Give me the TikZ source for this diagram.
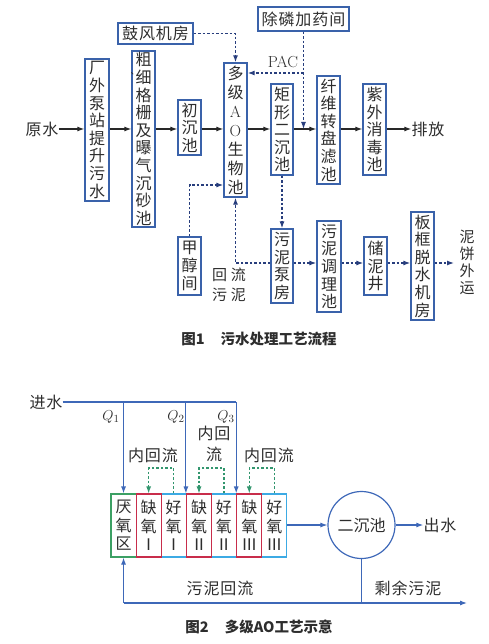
\documentclass[tikz,border=0pt]{standalone}
\usepackage{fontspec}
\newfontfamily\cjk{Noto Sans CJK SC}
\newfontfamily\cjkls[LetterSpace=6]{Noto Sans CJK SC}
\usetikzlibrary{arrows.meta}
\definecolor{txt}{RGB}{45,45,45}
\definecolor{bx}{RGB}{58,98,170}
\definecolor{ar}{RGB}{40,40,40}
\definecolor{dk}{RGB}{40,62,125}
\definecolor{bl}{RGB}{62,104,184}
\definecolor{gz}{RGB}{60,160,100}
\definecolor{rz}{RGB}{200,45,75}
\definecolor{cz}{RGB}{60,170,228}
\definecolor{gd}{RGB}{50,150,110}
\begin{document}
\begin{tikzpicture}[x=1pt,y=-1pt,
  every node/.style={text=txt},
  box/.style={draw=bx, line width=1.3pt, inner sep=0pt, align=center,
    font=\cjk\fontsize{16}{17.6}\selectfont},
  hbox/.style={draw=bx, line width=1.3pt, inner sep=0pt, align=center,
    font=\cjkls\fontsize{16}{18}\selectfont},
  lbl/.style={inner sep=0pt, align=center, font=\cjkls\fontsize{16}{18}\selectfont},
  vlbl/.style={inner sep=0pt, align=center, font=\cjk\fontsize{15}{17}\selectfont},
  captxt/.style={inner sep=0pt, font=\cjk\bfseries\fontsize{14.5}{16}\selectfont},
  tip/.style={-{Latex[length=7pt,width=5pt]}},
  arr/.style={draw=ar, line width=1.1pt, tip},
  darr/.style={draw=dk, line width=1.2pt, dash pattern=on 2.5pt off 2pt, tip},
  zone/.style={line width=1.1pt, inner sep=0pt, align=center,
    minimum width=25.1pt, minimum height=63pt,
    font=\cjk\fontsize{16}{18.5}\selectfont},
  barr/.style={draw=bl, line width=1.1pt, tip},
  bln/.style={draw=bl, line width=1.1pt},
  garr/.style={draw=gd, line width=1.1pt, dash pattern=on 2.5pt off 2pt, tip},
  qlbl/.style={inner sep=0pt, font=\fontsize{15}{15}\selectfont}
]
\useasboundingbox (0,0) rectangle (488,644);
% ---------------- Figure 1 ----------------
\coordinate (m) at (0,129);
\node[lbl] (yuan) at (42,129) {原水};
\node[box, minimum width=24pt, minimum height=142pt] (p1) at (97,130)
  {厂\\外\\泵\\站\\提\\升\\污\\水};
\node[box, minimum width=23pt, minimum height=176pt] (p2) at (143.5,139)
  {粗\\\makebox[0pt][l]{\hspace{-5pt}\raisebox{9pt}{\scalebox{0.55}{、}}}细\\格\\栅\\及\\曝\\气\\沉\\砂\\池};
\node[box, minimum width=23pt, minimum height=55pt] (p3) at (189.5,127.5)
  {初\\沉\\池};
\node[box, minimum width=23pt, minimum height=134pt,
  font=\cjk\fontsize{16}{19}\selectfont] (p4) at (235.5,130)
  {多\\级\\{\rmfamily\fontsize{16}{19}\selectfont A}\\{\rmfamily\fontsize{16}{19}\selectfont O}\\生\\物\\池};
\node[box, minimum width=22pt, minimum height=91pt] (p5) at (282,129.5)
  {矩\\形\\二\\沉\\池};
\node[box, minimum width=23pt, minimum height=108pt] (p6) at (328.5,130)
  {纤\\维\\转\\盘\\滤\\池};
\node[box, minimum width=23pt, minimum height=91pt] (p7) at (374.5,129.5)
  {紫\\外\\消\\毒\\池};
\node[lbl] (pf) at (428,129) {排放};
\node[hbox, minimum width=75pt, minimum height=21pt] (blow) at (155.5,33.5) {鼓风机房};
\node[hbox, minimum width=91pt, minimum height=24pt] (dep) at (303.5,19) {除磷加药间};
\node[inner sep=0pt, font=\rmfamily\fontsize{16}{16}\selectfont] (pac) at (283,62) {PAC};
\node[box, minimum width=23pt, minimum height=58pt] (meth) at (189.5,266) {甲\\醇\\间};
\node[box, minimum width=22pt, minimum height=74pt] (s1) at (282,266) {污\\泥\\泵\\房};
\node[box, minimum width=24pt, minimum height=91pt] (s2) at (329,266.5) {污\\泥\\调\\理\\池};
\node[box, minimum width=23pt, minimum height=58pt] (s3) at (375.5,266) {储\\泥\\井};
\node[box, minimum width=23pt, minimum height=108pt] (s4) at (422.5,266) {板\\框\\脱\\水\\机\\房};
\node[vlbl] (cake) at (467,262) {泥\\饼\\外\\运};
\node[inner sep=0pt, align=center, font=\cjk\fontsize{15}{20}\selectfont] (hl) at (229,285)
  {回\hspace{4pt}流\\污\hspace{4pt}泥};
\node[captxt] (cap1) at (259,339) {图1\hspace{16pt}污水处理工艺流程};
% main flow
\draw[arr] (yuan.east) -- (p1.west |- m);
\draw[arr] (p1.east |- m) -- (p2.west |- m);
\draw[arr] (p2.east |- m) -- (p3.west |- m);
\draw[arr] (p3.east |- m) -- (p4.west |- m);
\draw[arr] (p4.east |- m) -- (p5.west |- m);
\draw[arr] (p5.east |- m) -- (p6.west |- m);
\draw[arr] (p6.east |- m) -- (p7.west |- m);
\draw[arr] (p7.east |- m) -- (pf.west);
% dashed
\draw[darr] (blow.east) -| (p4.north);
\coordinate (pacb) at (303.5,73);
\draw[darr] (dep.south) -- (dep.south |- m);
\draw[darr] (pacb) -- (p4.east |- pacb);
\coordinate (mj) at (0,185);
\draw[darr] (meth.north) |- (p4.west |- mj);
\draw[darr] (p5.south) -- (s1.north);
\coordinate (sl) at (0,263);
\draw[darr] (s1.west |- sl) -| (p4.south);
\draw[darr] (s1.east |- sl) -- (s2.west |- sl);
\draw[darr] (s2.east |- sl) -- (s3.west |- sl);
\draw[darr] (s3.east |- sl) -- (s4.west |- sl);
\coordinate (cakearr) at (454,263);
\draw[darr] (s4.east |- sl) -- (cakearr);
% ---------------- Figure 2 ----------------
\node[lbl] (jin) at (46,402) {进水};
\node[zone, draw=cz] (z3) at (173.65,525.5) {好\\氧\\Ⅰ};
\node[zone, draw=cz] (z5) at (223.95,525.5) {好\\氧\\Ⅱ};
\node[zone, draw=cz] (z7) at (274.35,525.5) {好\\氧\\Ⅲ};
\node[zone, draw=gz] (z1) at (123.55,525.5) {厌\\氧\\区};
\node[zone, draw=rz] (z2) at (148.65,525.5) {缺\\氧\\Ⅰ};
\node[zone, draw=rz] (z4) at (199.0,525.5) {缺\\氧\\Ⅱ};
\node[zone, draw=rz] (z6) at (249.3,525.5) {缺\\氧\\Ⅲ};
\node[qlbl] (q1) at (111,417) {$Q_1$};
\node[qlbl] (q2) at (176,417) {$Q_2$};
\node[qlbl] (q3) at (226,417) {$Q_3$};
\draw[bln] (jin.east) -- (z6.north west |- jin.east);
\draw[barr] (z1.north |- jin.east) -- (z1.north);
\draw[barr] (z4.north west |- jin.east) -- (z4.north west);
\draw[barr] (z6.north west |- jin.east) -- (z6.north west);
\coordinate (ry) at (0,468);
\draw[garr] (z3.north) -- (z3.north |- ry) -| (z2.north);
\draw[garr] (z5.north) -- (z5.north |- ry) -| (z4.north);
\draw[garr] (z7.north) -- (z7.north |- ry) -| (z6.north);
\node[lbl] (r1) at (153,455) {内回流};
\node[lbl, font=\cjkls\fontsize{16}{21}\selectfont] (r2) at (214,444) {内回\\流};
\node[lbl] (r3) at (269,455) {内回流};
\node[circle, draw=bl, line width=1.2pt, minimum size=67pt, inner sep=0pt,
  font=\cjk\fontsize{16}{18}\selectfont] (c) at (361.5,525) {二沉池};
\node[lbl] (out) at (440,525) {出水};
\draw[barr] (z7.east |- c.west) -- (c.west);
\draw[barr] (c.east) -- (out.west);
\coordinate (bL) at (123.55,603);
\coordinate (bR) at (467,603);
\draw[barr] (bL) -- (bR);
\draw[barr] (bL) -- (z1.south);
\draw[bln] (c.south) -- (c.south |- bL);
\node[lbl] (hl2) at (220,588) {污泥回流};
\node[lbl] (sy) at (408,588) {剩余污泥};
\node[captxt] (cap2) at (259,627) {图2\hspace{16pt}多级AO工艺示意};
\end{tikzpicture}
\end{document}
